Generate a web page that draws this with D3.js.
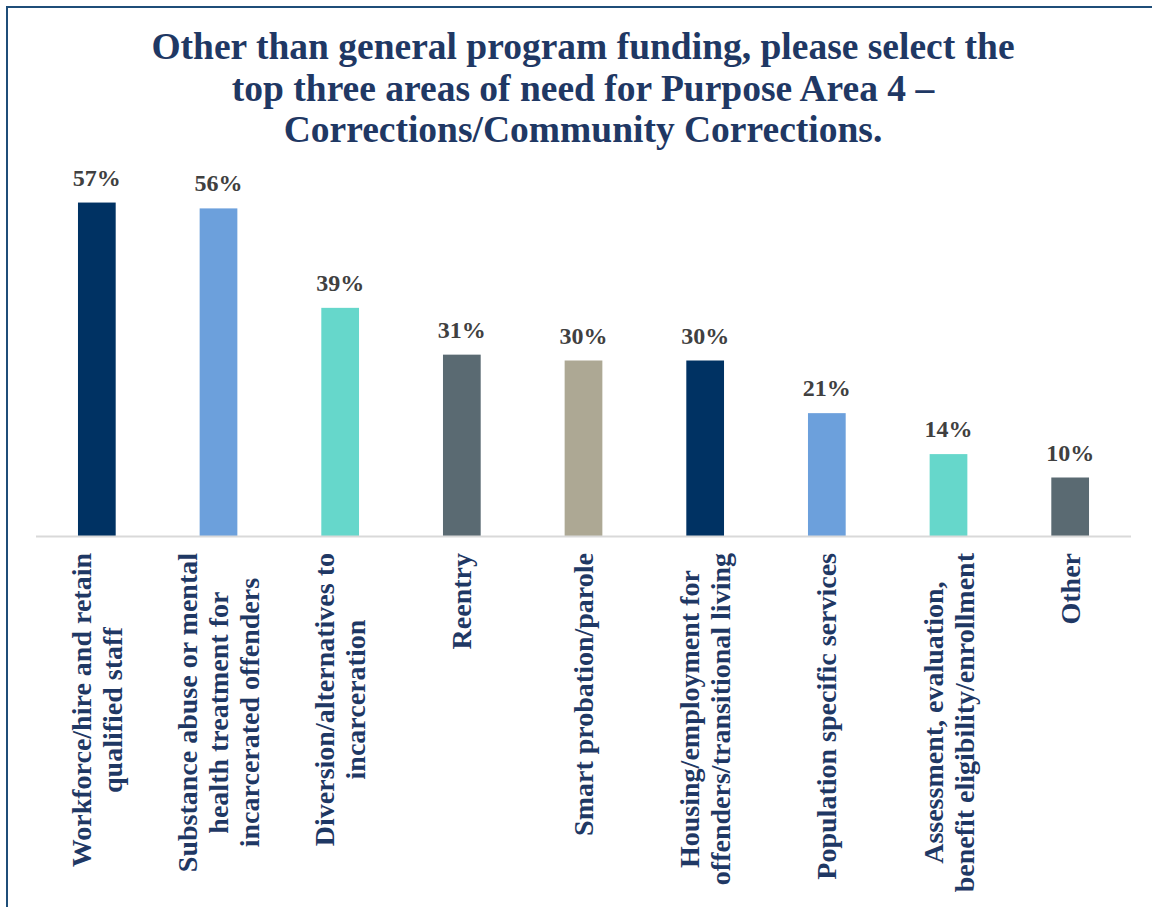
<!DOCTYPE html>
<html>
<head>
<meta charset="utf-8">
<script src="https://cdn.jsdelivr.net/npm/d3@7"></script>
<style>
  body { margin: 0; background: #fff; }
  svg { display: block; }
</style>
</head>
<body>
<svg width="1152" height="907"></svg>
<script>
var width = 1152, height = 907

// data
var categories = [
  ["Workforce/hire and retain", "qualified staff"],
  ["Substance abuse or mental", "health treatment for", "incarcerated offenders"],
  ["Diversion/alternatives to", "incarceration"],
  ["Reentry"],
  ["Smart probation/parole"],
  ["Housing/employment for", "offenders/transitional living"],
  ["Population specific services"],
  ["Assessment, evaluation,", "benefit eligibility/enrollment"],
  ["Other"]
]
var values = [57, 56, 39, 31, 30, 30, 21, 14, 10]
var colors = ["#003263", "#6ca0dc", "#66d7cb", "#5a6a72", "#ada894", "#003263", "#6ca0dc", "#66d7cb", "#5a6a72"]
var titleLines = [
  "Other than general program funding, please select the",
  "top three areas of need for Purpose Area 4 \u2013",
  "Corrections/Community Corrections."
]

var serif = "'Liberation Serif', 'Times New Roman', serif"
var svg = d3.select('svg')

// frame
svg.append('rect')
  .attr('x', 7).attr('y', 7)
  .attr('width', width + 20).attr('height', height + 20)
  .attr('fill', 'none')
  .attr('stroke', '#1f4e79')
  .attr('stroke-width', 2)

// title
svg.append('g').selectAll('text')
  .data(titleLines)
  .join('text')
  .attr('x', 583)
  .attr('y', function(d, i) { return 59 + i * 41.5 })
  .attr('text-anchor', 'middle')
  .style('font-family', serif)
  .style('font-weight', 'bold')
  .style('font-size', '37.5px')
  .attr('fill', '#1f3864')
  .text(function(d) { return d })

var x = d3.scaleBand()
  .domain(d3.range(categories.length))
  .range([36, 1131])
  .paddingInner(0.69)
  .paddingOuter(0.345)

var y = d3.scaleLinear()
  .domain([0, 60])
  .range([536, 536 - 60 * 5.85])

// bars
svg.append('g').selectAll('rect')
  .data(values)
  .join('rect')
  .attr('x', function(d, i) { return x(i) })
  .attr('y', function(d) { return y(d) })
  .attr('width', x.bandwidth())
  .attr('height', function(d) { return y(0) - y(d) })
  .attr('fill', function(d, i) { return colors[i] })

// value labels
svg.append('g').selectAll('text')
  .data(values)
  .join('text')
  .attr('x', function(d, i) { return x(i) + x.bandwidth() / 2 })
  .attr('y', function(d) { return y(d) - 17 })
  .attr('text-anchor', 'middle')
  .style('font-family', serif)
  .style('font-weight', 'bold')
  .style('font-size', '24px')
  .attr('fill', '#404040')
  .text(function(d) { return d + '%' })

// axis line
svg.append('line')
  .attr('x1', 36).attr('x2', 1131)
  .attr('y1', y(0) + 0.5).attr('y2', y(0) + 0.5)
  .attr('stroke', '#d9d9d9')
  .attr('stroke-width', 2)

// category labels, rotated
var labelTop = 553, lineGap = 31
var groups = svg.append('g').selectAll('g')
  .data(categories)
  .join('g')

groups.each(function(lines, i) {
  var g = d3.select(this)
  var cx = x(i) + x.bandwidth() / 2
  var texts = g.selectAll('text')
    .data(lines)
    .join('text')
    .attr('text-anchor', 'middle')
    .attr('dominant-baseline', 'central')
    .style('font-family', serif)
    .style('font-weight', 'bold')
    .style('font-size', '28px')
    .attr('fill', '#1f3864')
    .text(function(d) { return d })
  var maxLen = d3.max(texts.nodes(), function(n) { return n.getComputedTextLength() })
  var cy = labelTop + maxLen / 2
  texts.attr('transform', function(d, j) {
    var lx = cx + (j - (lines.length - 1) / 2) * lineGap
    return 'translate(' + lx + ',' + cy + ') rotate(-90)'
  })
})
</script>
</body>
</html>
